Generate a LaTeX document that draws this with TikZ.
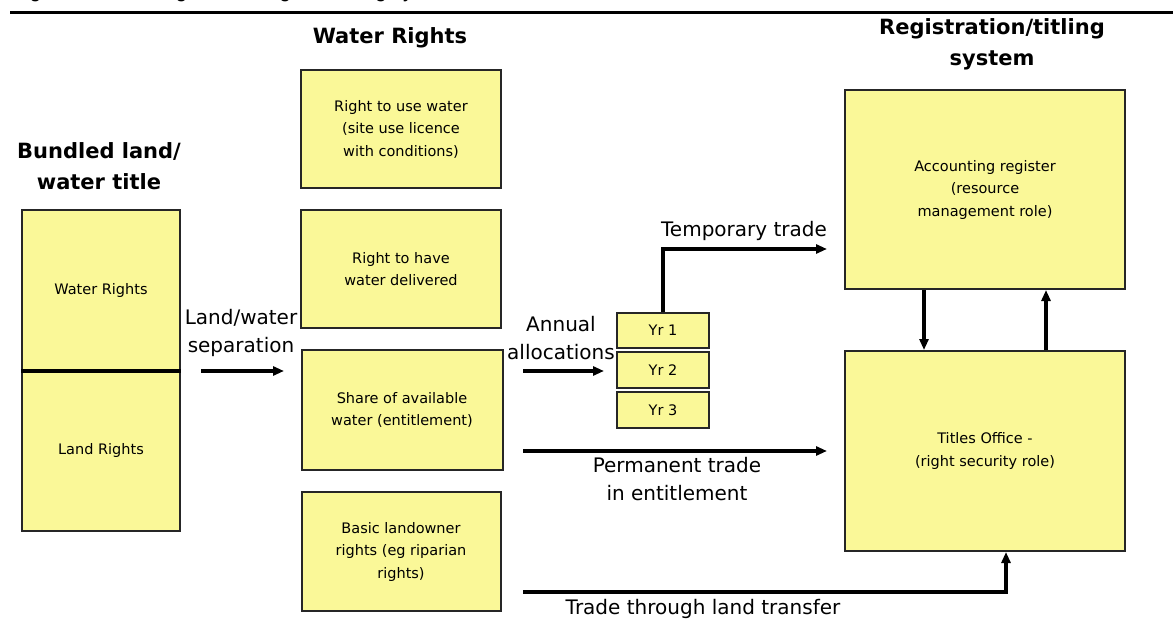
\documentclass[tikz,border=0pt]{standalone}
\usepackage{fontspec}
\setmainfont{DejaVu Sans}
\newfontfamily\capfont{Liberation Sans}
\usetikzlibrary{arrows.meta}
\definecolor{boxyellow}{RGB}{250,248,152}
\begin{document}
\begin{tikzpicture}[x=1pt,y=-1pt,
  box/.style={draw=black!85, line width=2, fill=boxyellow, inner sep=0pt, align=center,
    font=\fontsize{14.5}{22.5}\selectfont},
  head/.style={font=\fontsize{21}{31}\selectfont\bfseries, align=center, inner sep=0pt},
  lab/.style={font=\fontsize{20}{28}\selectfont, align=center, inner sep=0pt},
  conn/.style={line width=3.5, -{Triangle[length=11pt,width=9pt]}},
  plain/.style={line width=3.5}]
\useasboundingbox[fill=white] (0,0) rectangle (1173,623);
% cut-off caption
\node[anchor=base west, inner sep=0pt, font=\capfont\fontsize{21}{21}\selectfont] (cap) at (12,-2) {Figure 4: Water rights, trading and titling system};
\draw[line width=2.5] (10,12.5) coordinate (c1) -- (1173,12.5) coordinate (c2);
% headers
\node[head] (hw) at (390,38) {Water Rights};
\node[head] (hb) at (99,166) {Bundled land/\\water title};
\node[head] (hr) at (992,44) {Registration/titling\\system};
% left bundled box
\node[box, minimum width=158, minimum height=160] (wr) at (101,290) {Water Rights};
\node[box, minimum width=158, minimum height=161] (lr) at (101,450.5) {Land Rights};
\draw[line width=3.2] (wr.south west) -- (wr.south east);
% water rights column
\node[box, minimum width=200, minimum height=118] (b1) at (401,129) {Right to use water\\(site use licence\\with conditions)};
\node[box, minimum width=200, minimum height=118] (b2) at (401,269) {Right to have\\water delivered};
\node[box, minimum width=201, minimum height=120] (b3) at (402,410) {Share of available\\water (entitlement)};
\node[box, minimum width=199, minimum height=119] (b4) at (401,551.5) {Basic landowner\\rights (eg riparian\\rights)};
% year boxes
\node[box, minimum width=92, minimum height=35] (y1) at (663,330.5) {Yr 1};
\node[box, minimum width=92, minimum height=36] (y2) at (663,370) {Yr 2};
\node[box, minimum width=92, minimum height=36] (y3) at (663,410) {Yr 3};
% registry boxes
\node[box, minimum width=280, minimum height=199] (acc) at (985,189.5) {Accounting register\\(resource\\management role)};
\node[box, minimum width=280, minimum height=200] (tit) at (985,451) {Titles Office -\\(right security role)};
% labels
\node[lab] (lsep) at (241,333) {Land/water\\separation};
\node[lab] (lann) at (561,338) {Annual\\allocations};
\node[lab] (ltmp) at (744,231) {Temporary trade};
\node[lab] (lper) at (677,479) {Permanent trade\\in entitlement};
\node[lab] (ltrd) at (703,609) {Trade through land transfer};
% connectors
\coordinate (s1) at (201,371); \coordinate (s2) at (284,371);
\draw[conn] (s1) -- (s2);
\coordinate (a1) at (523,371); \coordinate (a2) at (604,371);
\draw[conn] (a1) -- (a2);
\coordinate (t2) at (827,249);
\draw[conn] (y1.north) |- (t2);
\coordinate (p1) at (523,451); \coordinate (p2) at (827,451);
\draw[conn] (p1) -- (p2);
\coordinate (q1) at (523,592); \coordinate (q2) at (1006,592);
\draw[conn] (q1) -- (q2) -- (q2 |- tit.south);
\draw[conn] (acc.south -| 924,0) -- (tit.north -| 924,0);
\draw[conn] (tit.north -| 1046,0) -- (acc.south -| 1046,0);
\end{tikzpicture}
\end{document}
